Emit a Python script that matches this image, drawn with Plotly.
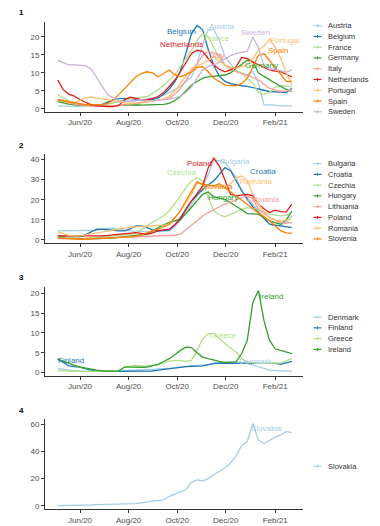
import pandas as pd
import plotly.graph_objects as go

W, H = 380, 526

dates = pd.date_range("2020-05-04", periods=43, freq="7D")

# ---------------- Panel 1 ----------------
p1_names = ["Austria", "Belgium", "France", "Germany", "Italy", "Netherlands", "Portugal", "Spain", "Sweden"]
austria = [0.8, 0.7, 0.6, 0.6, 0.6, 0.7, 0.8, 1.0, 1.3, 1.5, 1.8, 2.0, 2.2, 2.0, 2.2, 2.4, 2.6, 2.8, 3.2, 3.8, 4.5, 5.3, 6.2, 7.5, 8.9, 12.5, 18.0, 22.0, 22.1, 19.0, 14.5, 12.5, 10.8, 9.8, 9.4, 10.3, 7.1, 1.1, 1.1, 1.0, 0.8, 0.7, 0.8]
belgium = [2.5, 2.0, 1.6, 1.2, 1.0, 0.9, 0.8, 0.9, 1.2, 1.8, 2.5, 2.8, 2.8, 2.9, 2.6, 2.4, 2.3, 2.5, 3.0, 4.0, 5.5, 7.5, 10.5, 15.5, 21.0, 23.2, 22.0, 16.5, 12.0, 9.0, 7.6, 7.0, 6.6, 6.4, 6.2, 5.8, 5.4, 5.0, 4.8, 4.7, 4.6, 4.5, 5.7]
france = [3.9, 3.0, 2.2, 1.6, 1.2, 1.0, 0.9, 0.9, 1.0, 1.2, 1.6, 2.0, 2.5, 2.8, 3.0, 3.2, 3.4, 4.2, 5.3, 6.5, 8.0, 9.5, 11.7, 14.0, 16.3, 19.0, 21.0, 20.0, 17.2, 14.0, 12.0, 10.8, 10.4, 9.9, 8.5, 7.1, 4.5, 4.0, 4.5, 6.0, 6.4, 6.2, 6.2]
germany = [2.0, 1.6, 1.3, 1.1, 1.0, 1.0, 0.9, 0.8, 0.8, 0.8, 0.9, 1.0, 1.1, 1.1, 1.1, 1.0, 1.0, 1.0, 1.1, 1.2, 1.5, 2.3, 3.4, 5.0, 6.6, 7.6, 8.5, 8.9, 9.1, 9.2, 9.4, 10.0, 11.2, 12.3, 13.5, 13.1, 10.0, 9.0, 8.0, 7.0, 6.2, 5.4, 4.8]
italy = [2.5, 2.0, 1.5, 1.2, 1.0, 0.8, 0.7, 0.7, 0.7, 0.7, 0.8, 0.9, 1.1, 1.3, 1.5, 1.7, 1.9, 2.1, 2.3, 2.6, 2.9, 4.0, 5.7, 8.0, 10.3, 12.8, 14.9, 15.9, 15.6, 15.0, 12.2, 11.2, 10.3, 9.8, 9.4, 8.7, 8.0, 6.8, 5.7, 5.2, 4.8, 4.9, 5.3]
netherlands = [8.0, 5.3, 4.0, 3.5, 2.5, 1.8, 1.1, 0.8, 0.6, 0.6, 0.6, 1.0, 2.5, 3.2, 2.9, 2.5, 2.5, 2.8, 3.4, 4.5, 6.2, 8.0, 10.3, 13.0, 15.4, 16.3, 16.0, 14.0, 12.2, 11.0, 10.3, 10.8, 11.7, 14.3, 14.0, 13.0, 12.2, 11.5, 10.8, 10.5, 10.3, 9.6, 8.9]
portugal = [2.5, 2.0, 1.6, 1.8, 2.5, 3.0, 3.2, 3.0, 2.8, 2.6, 2.4, 2.0, 1.6, 1.4, 1.4, 1.6, 1.8, 2.0, 2.4, 2.8, 3.4, 5.0, 7.1, 9.2, 11.2, 12.0, 12.6, 13.5, 14.5, 13.2, 12.2, 11.6, 11.2, 11.8, 12.2, 14.0, 16.3, 17.5, 19.4, 17.2, 14.0, 10.0, 6.6]
spain = [2.5, 2.2, 1.8, 1.5, 1.3, 1.1, 1.0, 1.0, 1.2, 1.5, 2.5, 4.0, 5.7, 7.3, 8.9, 9.8, 10.3, 10.0, 8.9, 9.8, 10.8, 9.5, 8.9, 9.5, 10.3, 11.5, 11.7, 10.3, 8.5, 7.6, 6.6, 6.5, 6.4, 7.0, 8.5, 11.5, 14.9, 15.4, 13.5, 11.5, 9.4, 7.6, 7.6]
sweden = [13.5, 12.8, 12.2, 12.2, 12.2, 12.0, 11.0, 8.5, 6.2, 3.8, 3.0, 2.2, 2.0, 2.2, 2.3, 2.5, 2.3, 2.2, 2.4, 2.5, 2.7, 3.0, 3.5, 4.5, 6.0, 8.5, 10.8, 11.8, 12.2, 13.0, 14.0, 14.8, 15.4, 15.8, 16.0, 20.0, 17.0, 12.0, 11.0, 11.0, 10.5, 10.2, 10.8]
p1_values = [austria, belgium, france, germany, italy, netherlands, portugal, spain, sweden]
p1_label_x = ["2020-11-26", "2020-10-06", "2020-11-19", "2021-01-15", "2020-11-20", "2020-10-06", "2021-02-13", "2021-02-05", "2021-01-07"]
p1_label_y = [22.8, 21.4, 19.6, 12.0, 14.9, 17.8, 18.9, 16.2, 21.2]

# ---------------- Panel 2 ----------------
p2_names = ["Bulgaria", "Croatia", "Czechia", "Hungary", "Lithuania", "Poland", "Romania", "Slovenia"]
bulgaria = [4.5, 4.5, 4.5, 4.5, 4.5, 4.5, 4.6, 4.8, 5.2, 5.8, 5.8, 5.2, 4.8, 4.5, 4.3, 4.2, 4.0, 4.0, 4.2, 4.3, 4.5, 6.5, 9.5, 13.5, 17.8, 22.0, 26.0, 32.7, 39.7, 39.5, 38.5, 35.0, 31.0, 24.4, 21.0, 17.5, 14.4, 11.0, 7.8, 7.2, 7.0, 9.0, 12.0]
croatia = [2.0, 1.8, 1.5, 1.5, 1.5, 2.5, 4.0, 5.3, 5.3, 5.0, 4.5, 4.5, 4.5, 5.5, 7.0, 7.0, 6.1, 5.0, 4.5, 4.5, 4.8, 7.5, 11.1, 15.5, 19.4, 22.5, 25.2, 27.5, 29.4, 33.0, 36.0, 34.5, 29.4, 24.5, 20.2, 16.5, 13.6, 10.5, 7.8, 7.4, 7.0, 6.5, 6.1]
czechia = [2.5, 2.0, 1.5, 1.0, 0.8, 0.8, 1.0, 1.2, 1.5, 1.8, 2.0, 2.2, 2.5, 2.8, 3.5, 5.0, 7.0, 8.8, 10.3, 12.0, 14.4, 18.0, 21.9, 26.0, 29.4, 31.0, 29.4, 21.0, 14.4, 12.5, 11.5, 12.8, 14.1, 15.2, 16.1, 15.8, 15.3, 14.0, 12.8, 12.4, 12.0, 12.5, 13.6]
hungary = [1.0, 0.8, 0.6, 0.5, 0.5, 0.5, 0.5, 0.6, 0.7, 0.8, 1.0, 1.3, 1.5, 1.7, 2.0, 2.3, 2.8, 4.5, 6.1, 7.5, 8.6, 9.5, 10.3, 13.0, 16.1, 19.5, 22.7, 23.9, 21.4, 20.8, 20.2, 18.5, 16.9, 15.0, 13.1, 13.0, 12.8, 11.0, 9.5, 8.6, 7.8, 10.0, 14.4]
lithuania = [0.6, 0.5, 0.5, 0.5, 0.5, 0.5, 0.6, 0.7, 0.8, 0.9, 1.0, 1.0, 1.1, 1.2, 1.3, 1.4, 1.5, 1.6, 1.7, 1.8, 2.0, 2.3, 2.8, 5.0, 7.0, 9.5, 12.0, 13.5, 15.3, 16.5, 17.8, 19.0, 20.2, 21.0, 21.9, 20.5, 15.3, 13.0, 11.1, 9.8, 8.6, 8.4, 8.6]
poland = [2.0, 2.0, 1.8, 1.8, 1.8, 1.8, 1.8, 1.8, 2.0, 2.2, 2.5, 2.8, 3.2, 3.5, 3.6, 3.2, 2.8, 3.5, 4.5, 5.0, 5.3, 7.5, 10.3, 15.0, 19.4, 23.0, 26.9, 36.0, 40.7, 36.8, 29.4, 22.7, 21.9, 22.3, 22.7, 21.9, 17.8, 15.5, 13.6, 14.8, 14.1, 14.0, 17.8]
romania = [4.0, 3.0, 2.2, 2.0, 2.0, 2.5, 3.0, 3.5, 4.0, 4.5, 5.0, 5.5, 6.1, 6.3, 6.5, 6.8, 7.0, 7.0, 7.0, 7.3, 7.8, 11.0, 14.4, 18.5, 22.7, 28.5, 27.4, 27.2, 26.9, 26.5, 26.0, 28.0, 31.0, 31.9, 29.4, 23.0, 17.8, 14.0, 11.1, 10.0, 9.5, 9.8, 10.3]
slovenia = [1.0, 0.8, 0.5, 0.4, 0.3, 0.3, 0.4, 0.5, 0.6, 0.8, 1.0, 1.2, 1.4, 1.6, 1.8, 2.5, 3.6, 4.5, 5.3, 6.5, 7.8, 11.0, 14.4, 19.5, 24.4, 29.0, 27.7, 27.2, 26.9, 28.0, 26.0, 24.0, 21.9, 19.8, 17.8, 15.5, 13.6, 11.5, 9.5, 7.0, 4.5, 3.5, 3.2]
p2_values = [bulgaria, croatia, czechia, hungary, lithuania, poland, romania, slovenia]
p2_label_x = ["2020-12-12", "2021-01-17", "2020-10-06", "2020-11-27", "2021-01-17", "2020-10-29", "2021-01-08", "2020-11-20"]
p2_label_y = [39.0, 33.9, 33.4, 21.1, 20.2, 38.3, 29.0, 26.4]

# ---------------- Panel 3 ----------------
p3_names = ["Denmark", "Finland", "Greece", "Ireland"]
denmark = [1.0, 0.8, 0.6, 0.5, 0.4, 0.3, 0.3, 0.3, 0.3, 0.3, 0.3, 0.4, 0.5, 0.6, 0.6, 0.7, 0.8, 0.8, 0.9, 1.0, 1.0, 1.2, 1.4, 1.5, 1.7, 1.8, 1.8, 2.0, 2.3, 2.5, 2.7, 2.7, 2.7, 2.5, 2.3, 1.9, 1.4, 1.0, 0.6, 0.5, 0.4, 0.3, 0.3]
finland = [3.4, 2.5, 1.7, 1.5, 1.4, 1.0, 0.6, 0.4, 0.3, 0.3, 0.3, 0.3, 0.3, 0.3, 0.3, 0.3, 0.3, 0.4, 0.6, 0.8, 1.0, 1.2, 1.4, 1.5, 1.6, 1.65, 1.7, 2.0, 2.3, 2.35, 2.4, 2.35, 2.3, 2.35, 2.4, 2.35, 2.3, 2.35, 2.4, 2.3, 2.1, 2.4, 2.8]
greece = [0.5, 0.4, 0.3, 0.3, 0.3, 0.3, 0.3, 0.3, 0.3, 0.3, 0.3, 0.5, 1.4, 1.6, 1.8, 1.7, 1.6, 1.8, 2.0, 2.4, 2.9, 3.0, 3.1, 2.8, 3.1, 5.6, 8.5, 9.8, 9.8, 8.5, 7.3, 6.2, 5.2, 3.5, 2.7, 2.5, 2.3, 2.3, 2.4, 2.4, 2.4, 2.9, 3.5]
ireland = [3.4, 2.8, 2.3, 1.8, 1.4, 1.1, 0.8, 0.6, 0.4, 0.35, 0.3, 0.5, 1.4, 1.4, 1.3, 1.35, 1.4, 1.8, 2.1, 2.8, 3.5, 4.5, 5.6, 6.4, 6.3, 5.0, 3.9, 3.5, 3.1, 2.8, 2.5, 2.6, 2.7, 4.8, 8.1, 17.7, 20.7, 13.1, 8.1, 6.0, 5.6, 5.2, 4.8]
p3_values = [denmark, finland, greece, ireland]
p3_label_x = ["2021-01-07", "2020-05-21", "2020-11-28", "2021-01-27"]
p3_label_y = [2.7, 3.1, 9.4, 19.2]

# ---------------- Panel 4 ----------------
p4_names = ["Slovakia"]
slovakia = [0.1, 0.1, 0.1, 0.2, 0.3, 0.4, 0.6, 0.8, 0.9, 1.0, 1.0, 1.1, 1.2, 1.3, 1.6, 2.2, 3.0, 3.5, 3.9, 4.4, 7.0, 8.7, 10.2, 12.0, 17.3, 19.0, 18.3, 20.0, 22.9, 25.5, 28.0, 31.5, 36.8, 44.4, 47.3, 60.7, 48.5, 45.6, 48.0, 50.5, 52.2, 54.6, 53.9]
p4_values = [slovakia]
p4_label_x = ["2021-01-21"]
p4_label_y = [56.6]

panel_titles = ["1", "2", "3", "4"]
y_ticks = [[0, 5, 10, 15, 20], [0, 10, 20, 30, 40], [0, 5, 10, 15, 20], [0, 20, 40, 60]]
x_tickvals = ["2020-06-01", "2020-08-01", "2020-10-01", "2020-12-01", "2021-02-01"]
x_ticktext = ["Jun/20", "Aug/20", "Oct/20", "Dec/20", "Feb/21"]

paired = ["#A6CEE3", "#1F78B4", "#B2DF8A", "#33A02C", "#FB9A99", "#E31A1C", "#FDBF6F", "#FF7F00", "#CAB2D6"]

# ---------------- layout geometry (pixels) ----------------
plot_left, plot_right = 45, 303
panel_px = [(22, 112), (155, 244), (288, 377), (421, 511)]   # top, bottom
y_ranges = [[-0.8, 24.2], [-1.6, 42.6], [-0.75, 21.6], [-2.4, 63.6]]
legend_center = [69, 202, 334.5, 468]
legend_step = 10.8

FONT = "Liberation Sans, Arial, sans-serif"

def px_x(x):
    return x / W

def px_y(y):
    return 1 - y / H

fig = go.Figure()

panels = [
    (p1_names, p1_values, p1_label_x, p1_label_y),
    (p2_names, p2_values, p2_label_x, p2_label_y),
    (p3_names, p3_values, p3_label_x, p3_label_y),
    (p4_names, p4_values, p4_label_x, p4_label_y),
]

annotations = []
shapes = []

for pi, (names, values, lx, ly) in enumerate(panels):
    ax = "" if pi == 0 else str(pi + 1)
    xref, yref = "x" + ax, "y" + ax
    for si, (name, vals) in enumerate(zip(names, values)):
        fig.add_trace(go.Scatter(
            x=dates, y=vals, mode="lines", name=name,
            line=dict(color=paired[si], width=1.3),
            xaxis=xref, yaxis=yref, showlegend=False,
            hovertemplate=name + ": %{y}<extra></extra>",
        ))
        annotations.append(dict(
            x=lx[si], y=ly[si], xref=xref, yref=yref, text=name, showarrow=False,
            font=dict(family=FONT, size=8, color=paired[si]),
            xanchor="center", yanchor="middle",
        ))
    top, bot = panel_px[pi]
    fig.layout["xaxis" + ax] = dict(
        domain=[px_x(plot_left), px_x(plot_right)],
        anchor=yref, type="date",
        range=["2020-04-18", "2021-03-08"],
        tickvals=x_tickvals, ticktext=x_ticktext,
        showgrid=False, zeroline=False,
        showline=True, linecolor="#333333", linewidth=1,
        ticks="outside", ticklen=3, tickcolor="#333333", tickwidth=1,
        tickfont=dict(family=FONT, size=8, color="#4D4D4D"),
        fixedrange=True,
    )
    fig.layout["yaxis" + ax] = dict(
        domain=[px_y(bot), px_y(top)],
        anchor=xref, range=y_ranges[pi],
        tickvals=y_ticks[pi],
        showgrid=False, zeroline=False,
        showline=True, linecolor="#333333", linewidth=1,
        ticks="outside", ticklen=3, tickcolor="#333333", tickwidth=1,
        tickfont=dict(family=FONT, size=8, color="#4D4D4D"),
        fixedrange=True,
    )
    # panel title
    annotations.append(dict(
        x=px_x(21), y=px_y(top - 9), xref="paper", yref="paper",
        text="<b>" + panel_titles[pi] + "</b>", showarrow=False,
        font=dict(family=FONT, size=8, color="#000000"),
        xanchor="center", yanchor="middle",
    ))
    # legend
    n = len(names)
    y0 = legend_center[pi] - (n - 1) / 2 * legend_step
    for si, name in enumerate(names):
        yy = y0 + si * legend_step
        shapes.append(dict(type="line", xref="paper", yref="paper",
                           x0=px_x(313.5), x1=px_x(321.5), y0=px_y(yy), y1=px_y(yy),
                           line=dict(color=paired[si], width=1.2)))
        shapes.append(dict(type="line", xref="paper", yref="paper",
                           x0=px_x(317.5), x1=px_x(317.5), y0=px_y(yy - 1.5), y1=px_y(yy + 1.5),
                           line=dict(color=paired[si], width=1)))
        annotations.append(dict(
            x=px_x(325.5), y=px_y(yy), xref="paper", yref="paper",
            text=name, showarrow=False,
            font=dict(family=FONT, size=7.5, color="#333333"),
            xanchor="left", yanchor="middle",
        ))

fig.update_layout(
    width=W, height=H,
    margin=dict(l=0, r=0, t=0, b=0),
    paper_bgcolor="white", plot_bgcolor="white",
    showlegend=False,
    annotations=annotations, shapes=shapes,
    font=dict(family=FONT),
)

fig.write_html(
    "out.html",
    config={"displayModeBar": False},
    post_script="document.body.style.margin='0';document.body.style.padding='0';document.body.style.overflow='hidden';",
)
